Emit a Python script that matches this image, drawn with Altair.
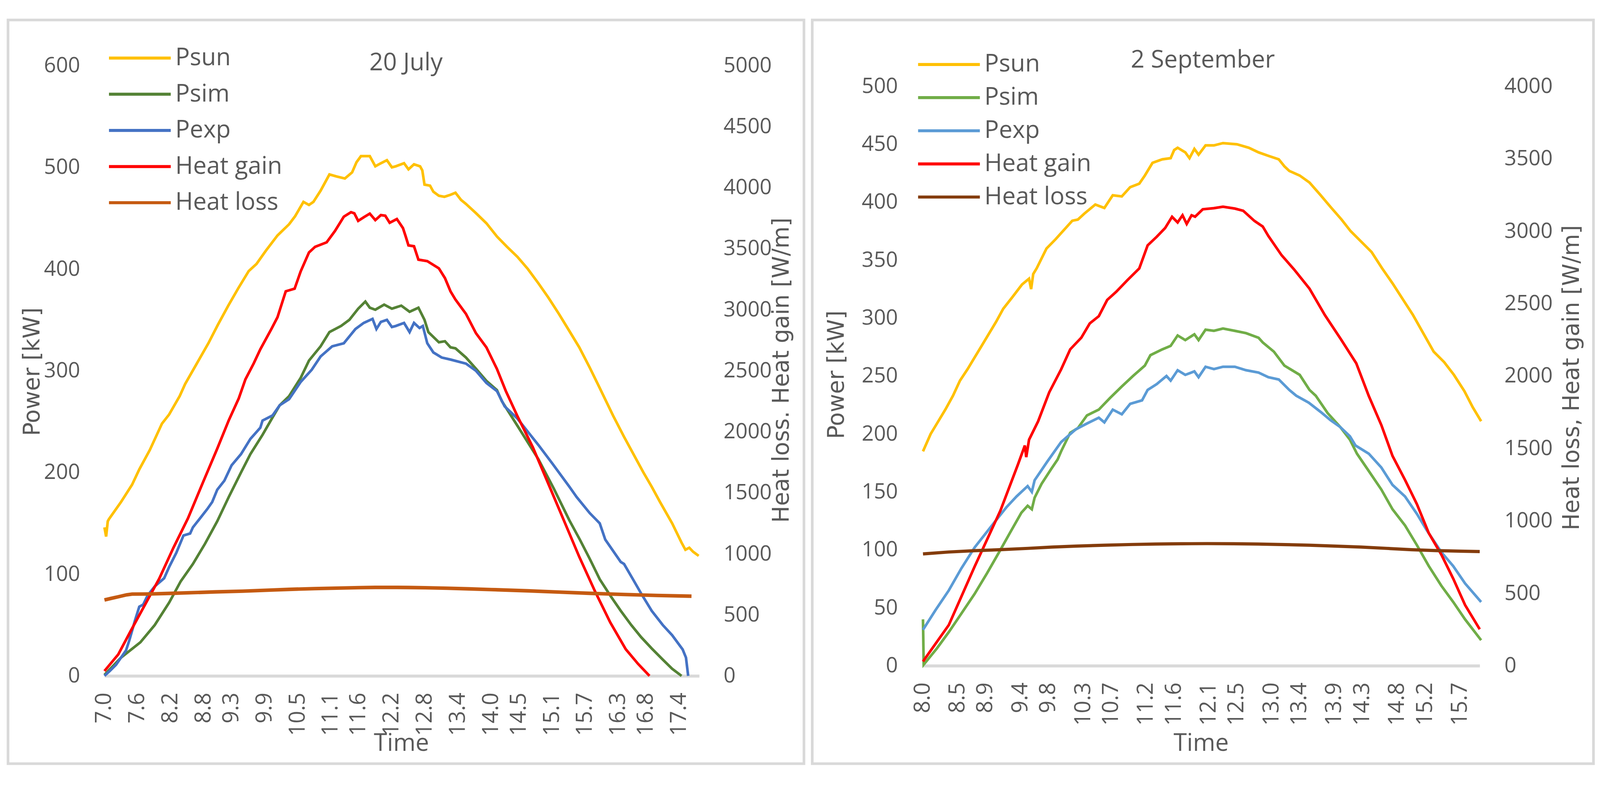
import altair as alt
import pandas as pd

SERIES = ["Psun", "Psim", "Pexp", "Heat gain", "Heat loss"]

# ---------------- 20 July ----------------
jul_xticks = [7.0, 7.6, 8.2, 8.8, 9.3, 9.9, 10.5, 11.1, 11.6, 12.2, 12.8, 13.4, 14.0, 14.5, 15.1, 15.7, 16.3, 16.8, 17.4]
jul_colors = ["#FFC000", "#548235", "#4472C4", "#FF0000", "#C55A11"]
jul_widths = [7, 7, 7, 7, 9.5]

jul_psun_t = [7.00, 7.03, 7.06, 7.08, 7.3, 7.5, 7.63, 7.82, 8.04, 8.17, 8.36, 8.46, 8.67, 8.88, 9.05, 9.24, 9.42, 9.61, 9.75, 9.92,
              10.13, 10.34, 10.45, 10.6, 10.7, 10.78, 10.91, 11.07, 11.2, 11.35, 11.48, 11.56, 11.64, 11.8, 11.9, 12.0, 12.11, 12.2,
              12.27, 12.42, 12.5, 12.6, 12.71, 12.75, 12.79, 12.89, 12.95, 13.05, 13.15, 13.26, 13.35, 13.45, 13.54, 13.72, 13.91,
              14.1, 14.28, 14.47, 14.66, 14.85, 15.03, 15.22, 15.4, 15.59, 15.78, 15.96, 16.2, 16.4, 16.58, 16.75, 16.9, 17.05,
              17.27, 17.44, 17.51, 17.58, 17.65, 17.75]
jul_psun_v = [146, 137, 152, 154, 171, 188, 203, 222, 248, 257, 275, 287, 307, 327, 345, 364, 381, 398, 405, 418,
              433, 444, 452, 466, 463, 466, 477, 493, 491, 489, 495, 505, 511, 511, 501, 504, 507, 500,
              501, 504, 498, 503, 501, 497, 483, 482, 476, 472, 471, 473, 475, 468, 464, 455, 445,
              432, 422, 412, 400, 386, 372, 356, 340, 323, 303, 283, 256, 235, 217, 200, 186, 171,
              150, 131, 124, 126, 122, 118]

jul_psim_t = [7.00, 7.3, 7.65, 7.91, 8.17, 8.38, 8.6, 8.82, 9.04, 9.25, 9.47, 9.64, 9.86, 10.04, 10.17, 10.34, 10.55, 10.7,
              10.91, 11.07, 11.28, 11.43, 11.59, 11.72, 11.8, 11.9, 12.06, 12.2, 12.37, 12.52, 12.68, 12.79, 12.86, 13.05,
              13.16, 13.26, 13.35, 13.54, 13.72, 13.91, 14.1, 14.19, 14.47, 14.85, 15.13, 15.41, 15.6, 15.78, 15.96, 16.15,
              16.34, 16.53, 16.71, 16.9, 17.1, 17.27, 17.44]
jul_psim_v = [1, 18, 33, 50, 72, 93, 110, 130, 152, 176, 200, 218, 237, 254, 266, 275, 293, 310,
              324, 338, 344, 350, 361, 368, 362, 360, 365, 361, 364, 358, 362, 350, 338, 328,
              329, 323, 322, 313, 302, 290, 281, 270, 246, 213, 184, 153, 134, 115, 95, 79,
              64, 50, 38, 27, 16, 7, 0]

jul_pexp_t = [7.00, 7.1, 7.21, 7.39, 7.45, 7.55, 7.63, 7.7, 7.78, 7.91, 8.08, 8.17, 8.3, 8.43, 8.55, 8.6, 8.73, 8.86, 8.95,
              9.04, 9.17, 9.3, 9.47, 9.64, 9.82, 9.86, 10.04, 10.17, 10.34, 10.55, 10.75, 10.91, 11.12, 11.33, 11.45, 11.54,
              11.69, 11.85, 11.92, 12.0, 12.11, 12.2, 12.27, 12.42, 12.52, 12.6, 12.7, 12.76, 12.84, 12.95, 13.1, 13.26,
              13.54, 13.72, 13.91, 14.1, 14.24, 14.47, 14.66, 14.85, 15.1, 15.41, 15.54, 15.78, 15.96, 16.06, 16.34, 16.4,
              16.55, 16.72, 16.9, 17.1, 17.27, 17.46, 17.52, 17.56]
jul_pexp_v = [0, 5, 11, 25, 35, 54, 68, 70, 79, 88, 96, 107, 121, 138, 140, 146, 155, 164, 171,
              183, 192, 207, 218, 233, 244, 251, 256, 266, 272, 289, 301, 314, 324, 327, 335, 341,
              347, 351, 341, 348, 350, 343, 344, 347, 338, 347, 342, 344, 327, 318, 313, 311,
              307, 300, 288, 280, 265, 253, 240, 227, 209, 186, 176, 160, 150, 134, 112, 110,
              96, 80, 64, 50, 40, 26, 18, 0]

jul_gain_t = [7.00, 7.25, 7.47, 7.73, 7.99, 8.25, 8.51, 8.78, 9.04, 9.25, 9.43, 9.55, 9.7, 9.82, 10.02, 10.13, 10.28, 10.44,
              10.55, 10.7, 10.81, 11.02, 11.17, 11.33, 11.46, 11.52, 11.59, 11.7, 11.8, 11.9, 12.0, 12.08, 12.16, 12.29,
              12.4, 12.45, 12.5, 12.6, 12.68, 12.84, 13.05, 13.16, 13.26, 13.35, 13.54, 13.72, 13.91, 14.1, 14.26, 14.47,
              14.75, 15.03, 15.31, 15.59, 15.87, 16.15, 16.43, 16.65, 16.86]
jul_gain_v = [40, 176, 364, 580, 796, 1052, 1290, 1583, 1861, 2095, 2274, 2429, 2560, 2676, 2842, 2938, 3151, 3172,
              3314, 3469, 3515, 3552, 3645, 3762, 3799, 3790, 3728, 3760, 3787, 3734, 3775, 3770, 3712, 3743,
              3669, 3600, 3527, 3520, 3410, 3398, 3339, 3259, 3151, 3083, 2966, 2808, 2691, 2515, 2335, 2129,
              1873, 1574, 1275, 975, 697, 438, 219, 100, 0]

jul_loss_t = [7.0, 7.12, 7.25, 7.4, 7.5, 7.8, 8.2, 8.6, 9.0, 9.5, 10.0, 10.35, 10.8, 11.2, 11.6, 11.9, 12.2, 12.5, 12.8,
              13.2, 13.6, 14.0, 14.66, 15.2, 15.8, 16.4, 17.0, 17.62]
jul_loss_v = [622, 635, 648, 664, 670, 671, 676, 682, 688, 694, 703, 709, 715, 719, 723, 725, 725, 724, 722,
              718, 713, 707, 697, 687, 676, 667, 659, 653]

# ---------------- 2 September ----------------
sep_xticks = [8.0, 8.5, 8.9, 9.4, 9.8, 10.3, 10.7, 11.2, 11.6, 12.1, 12.5, 13.0, 13.4, 13.9, 14.3, 14.8, 15.2, 15.7]
sep_colors = ["#FFC000", "#70AD47", "#5B9BD5", "#FF0000", "#843C0C"]
sep_widths = [7, 7, 7, 7, 8.5]

sep_psun_t = [8.0, 8.11, 8.2, 8.32, 8.43, 8.53, 8.64, 8.74, 8.84, 8.94, 9.05, 9.15, 9.28, 9.42, 9.52, 9.55, 9.58, 9.63,
              9.77, 9.9, 10.02, 10.14, 10.22, 10.31, 10.47, 10.6, 10.72, 10.85, 10.97, 11.1, 11.18, 11.29, 11.43, 11.55,
              11.6, 11.65, 11.76, 11.82, 11.89, 11.95, 12.05, 12.17, 12.3, 12.5, 12.67, 12.81, 12.95, 13.1, 13.18, 13.25,
              13.4, 13.54, 13.7, 13.84, 14.0, 14.13, 14.28, 14.43, 14.58, 14.73, 14.88, 15.02, 15.17, 15.32, 15.47, 15.61,
              15.76, 15.88, 16.0]
sep_psun_v = [185, 200, 209, 221, 233, 246, 256, 266, 276, 286, 297, 308, 318, 329, 334, 325, 338, 343,
              360, 368, 376, 384, 385, 390, 398, 395, 406, 405, 413, 416, 423, 434, 437, 438,
              445, 447, 443, 438, 446, 441, 449, 449, 451, 450, 447, 443, 440, 437, 431, 427,
              423, 417, 406, 396, 385, 375, 366, 357, 343, 330, 316, 303, 287, 271, 262, 251,
              237, 223, 211]

sep_psim_t = [8.0, 8.01, 8.2, 8.37, 8.55, 8.74, 8.92, 9.11, 9.25, 9.41, 9.5, 9.56, 9.6, 9.7, 9.84, 9.93, 9.98, 10.11,
              10.22, 10.35, 10.52, 10.68, 10.85, 11.01, 11.18, 11.26, 11.43, 11.55, 11.65, 11.76, 11.89, 11.95, 12.05,
              12.17, 12.3, 12.47, 12.63, 12.81, 12.87, 13.03, 13.18, 13.4, 13.54, 13.63, 13.8, 13.98, 14.12, 14.22, 14.39,
              14.57, 14.73, 14.91, 15.08, 15.25, 15.43, 15.6, 15.77, 16.0]
sep_psim_v = [40, 1, 15, 29, 45, 62, 80, 100, 115, 132, 138, 135, 145, 157, 170, 178, 185, 201,
              205, 216, 221, 231, 241, 250, 259, 268, 273, 276, 285, 281, 286, 281, 290,
              289, 291, 289, 287, 283, 279, 271, 259, 251, 238, 233, 218, 206, 195, 183, 168,
              152, 135, 121, 104, 86, 69, 55, 40, 22]

sep_pexp_t = [8.0, 8.18, 8.37, 8.55, 8.74, 9.04, 9.2, 9.34, 9.5, 9.56, 9.6, 9.78, 9.98, 10.19, 10.35, 10.52, 10.6, 10.72,
              10.85, 10.97, 11.14, 11.22, 11.35, 11.49, 11.55, 11.65, 11.76, 11.89, 11.95, 12.05, 12.17, 12.3, 12.47,
              12.63, 12.81, 12.95, 13.1, 13.25, 13.35, 13.53, 13.7, 13.84, 13.98, 14.12, 14.2, 14.39, 14.57, 14.73, 14.91,
              15.08, 15.22, 15.43, 15.6, 15.77, 16.0]
sep_pexp_v = [31, 48, 65, 84, 102, 125, 137, 146, 155, 150, 160, 176, 193, 204, 209, 214, 210, 221,
              217, 226, 229, 238, 243, 250, 246, 255, 251, 254, 249, 258, 256, 258, 258,
              255, 253, 249, 247, 238, 233, 227, 219, 212, 206, 198, 190, 183, 171, 156, 146,
              131, 117, 98, 86, 71, 55]

sep_gain_t = [8.0, 8.37, 8.74, 9.11, 9.36, 9.46, 9.48, 9.52, 9.65, 9.81, 9.98, 10.11, 10.27, 10.39, 10.52, 10.64, 10.77,
              10.93, 11.1, 11.22, 11.35, 11.47, 11.57, 11.65, 11.72, 11.78, 11.85, 11.9, 12.01, 12.17, 12.3, 12.47, 12.59,
              12.75, 12.87, 12.95, 13.14, 13.32, 13.54, 13.76, 13.99, 14.21, 14.39, 14.57, 14.73, 14.91, 15.08, 15.25,
              15.43, 15.6, 15.77, 15.98]
sep_gain_v = [29, 281, 684, 1071, 1388, 1520, 1440, 1560, 1687, 1888, 2046, 2184, 2265, 2363, 2413, 2525, 2582,
              2662, 2743, 2902, 2961, 3021, 3099, 3060, 3110, 3050, 3110, 3100, 3151, 3159, 3169, 3156, 3141,
              3071, 3032, 2967, 2834, 2735, 2603, 2421, 2254, 2088, 1862, 1661, 1448, 1282, 1115, 915,
              767, 601, 419, 252]

sep_loss_t = [8.0, 8.37, 8.74, 9.1, 9.5, 9.85, 10.2, 10.6, 11.0, 11.33, 11.7, 12.07, 12.45, 12.8, 13.2, 13.54, 13.9,
              14.28, 14.65, 15.0, 15.35, 15.7, 15.98]
sep_loss_v = [772, 785, 794, 801, 810, 819, 826, 832, 837, 840, 842, 843, 842, 840, 836, 832, 826,
              819, 810, 801, 795, 791, 788]

TXT = "#595959"
GRID = "#D9D9D9"


def long_df(parts, widths):
    rows = []
    for (name, axis, ts, vs), w in zip(parts, widths):
        for i, (t, v) in enumerate(zip(ts, vs)):
            rows.append({"series": name, "axis": axis, "t": t, "v": v, "ord": i, "sw": w})
    return pd.DataFrame(rows)


def panel(df, p):
    legend = alt.Legend(title=None, orient="none", legendX=p["legX"], legendY=p["legY"], direction="vertical",
                        symbolType="M-1,0H7.2", symbolSize=1600, symbolStrokeWidth=8,
                        labelFont="Open Sans", labelFontSize=64, labelColor=TXT, labelOffset=124,
                        rowPadding=p["rowPad"], padding=0, labelLimit=0)
    color = alt.Color("series:N", scale=alt.Scale(domain=SERIES, range=p["colors"]), legend=legend)
    width = alt.StrokeWidth("sw:Q", scale=None, legend=None)
    x = alt.X("t:Q",
              scale=alt.Scale(domain=p["xdom"], range=p["xrange"], nice=False, zero=False),
              axis=alt.Axis(values=p["xticks"], format=".1f", labelAngle=270, labelFont="Open Sans",
                            labelFontSize=58, labelColor=TXT, labelPadding=44, labelFlush=False,
                            labelOverlap=False, ticks=False, tickSize=0, grid=False, domainColor=GRID,
                            domainWidth=8, offset=p["xoff"], title="Time", titleFont="Open Sans",
                            titleFontSize=64, titleFontWeight="normal", titleColor=TXT,
                            titleX=p["xtx"], titleY=p["xty"], titleAlign="center", titleBaseline="middle"))
    yl = alt.Y("v:Q",
               scale=alt.Scale(domain=p["ldom"], range=p["yrange"], nice=False, zero=False),
               axis=alt.Axis(orient="left", values=p["lticks"], format="d", labelFont="Open Sans",
                             labelFontSize=56, labelColor=TXT, labelPadding=p["lpad"], ticks=False, tickSize=0,
                             domain=False, grid=False, offset=p["loff"], labelFlush=False, labelOverlap=False,
                             title="Power [kW]", titleFont="DejaVu Sans", titleFontSize=60,
                             titleFontWeight="normal", titleColor=TXT, titleAngle=270,
                             titleX=p["ltx"], titleY=p["lty"], titleAlign="center", titleBaseline="middle"))
    yr = alt.Y("v:Q",
               scale=alt.Scale(domain=p["rdom"], range=p["yrange"], nice=False, zero=False),
               axis=alt.Axis(orient="right", values=p["rticks"], format="d", labelFont="Open Sans",
                             labelFontSize=56, labelColor=TXT, labelPadding=p["rpad"], ticks=False, tickSize=0,
                             domain=False, grid=False, offset=p["roff"], labelFlush=False, labelOverlap=False,
                             title=p["rtitle"], titleFont="DejaVu Sans", titleFontSize=60,
                             titleFontWeight="normal", titleColor=TXT, titleAngle=270,
                             titleX=p["rtx"], titleY=p["rty"], titleAlign="center", titleBaseline="middle"))
    base = alt.Chart(df)
    kw = base.transform_filter(alt.datum.axis == "kw").mark_line().encode(
        x=x, y=yl, color=color, strokeWidth=width, order="ord:Q")
    wm = base.transform_filter(alt.datum.axis == "wm").mark_line().encode(
        x=x, y=yr, color=color, strokeWidth=width, order="ord:Q")
    return alt.layer(kw, wm).resolve_scale(y="independent").properties(
        width=p["W"], height=p["H"],
        title=alt.TitleParams(text=p["title"], font="Open Sans", fontSize=64, fontWeight="normal", color=TXT,
                              anchor="middle", frame="group", orient="bottom", offset=p["toff"]))


jul_df = long_df([
    ("Psun", "kw", jul_psun_t, jul_psun_v),
    ("Psim", "kw", jul_psim_t, jul_psim_v),
    ("Pexp", "kw", jul_pexp_t, jul_pexp_v),
    ("Heat gain", "wm", jul_gain_t, jul_gain_v),
    ("Heat loss", "wm", jul_loss_t, jul_loss_v),
], jul_widths)
sep_df = long_df([
    ("Psun", "kw", sep_psun_t, sep_psun_v),
    ("Psim", "kw", sep_psim_t, sep_psim_v),
    ("Pexp", "kw", sep_pexp_t, sep_pexp_v),
    ("Heat gain", "wm", sep_gain_t, sep_gain_v),
    ("Heat loss", "wm", sep_loss_t, sep_loss_v),
], sep_widths)

left = panel(jul_df, dict(
    W=2113, H=1974, xdom=[7.0, 17.76], xrange=[256, 1835], yrange=[1741, 121], xticks=jul_xticks,
    colors=jul_colors, ldom=[0, 600], lticks=list(range(0, 601, 100)), rdom=[0, 5000],
    rticks=list(range(0, 5001, 500)), xoff=-233, loff=-256, roff=-278, lpad=65, rpad=64,
    xtx=1044, xty=180, ltx=-191, lty=933, rtx=219, rty=929, rtitle="Heat loss. Heat gain [W/m]",
    legX=256, legY=69, rowPad=32, title="20 July", toff=-1891))

right = panel(sep_df, dict(
    W=2074, H=1974, xdom=[8.0, 15.98], xrange=[294, 1772], yrange=[1714, 176], xticks=sep_xticks,
    colors=sep_colors, ldom=[0, 500], lticks=list(range(0, 501, 50)), rdom=[0, 4000],
    rticks=list(range(0, 4001, 500)), xoff=-260, loff=-294, roff=-302, lpad=67, rpad=65,
    xtx=1032, xty=207, ltx=-229, lty=941, rtx=245, rty=949, rtitle="Heat loss, Heat gain [W/m]",
    legX=269, legY=86, rowPad=24, title="2 September", toff=-1899))

chart = alt.hconcat(left, right, spacing=14).resolve_scale(
    x="independent", y="independent", color="independent"
).resolve_legend(color="independent").configure_view(
    stroke=GRID, strokeWidth=7
).properties(padding={"left": 9, "top": 4, "right": 5, "bottom": 5}, background="white")

chart.save("out.html", embed_options={"renderer": "svg", "actions": False})
